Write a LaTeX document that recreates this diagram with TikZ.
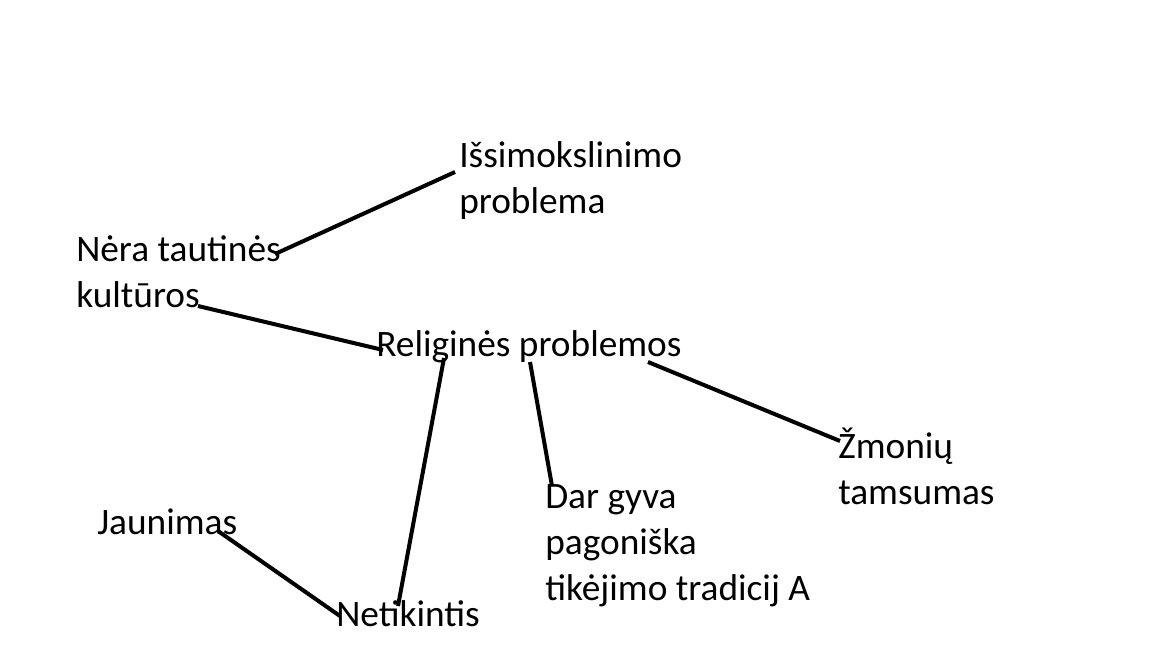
\documentclass[tikz,border=0pt]{standalone}
\usepackage{fontspec}
\setmainfont{Carlito}
\begin{document}
\begin{tikzpicture}[x=0.75pt,y=-0.75pt,
  lbl/.style={anchor=base west,inner sep=0pt,font=\fontsize{28}{34.5}\selectfont},
  link/.style={line width=3pt,black}]
\useasboundingbox (0,0) rectangle (1151,648);
\fill[white] (0,0) rectangle (1151,648);
\node[lbl] (isi) at (459,168) {\vtop{\hbox{Išsimokslinimo}\hbox{problema}}};
\node[lbl] (nera) at (76,262) {\vtop{\hbox{Nėra tautinės}\hbox{kultūros}}};
\node[lbl] (rel) at (376,356) {Religinės problemos};
\node[lbl] (zm) at (838,458) {\vtop{\hbox{Žmonių}\hbox{tamsumas}}};
\node[lbl] (dar) at (545,508) {\vtop{\hbox{Dar gyva}\hbox{pagoniška}\hbox{tikėjimo tradicij A}}};
\node[lbl] (jau) at (97,534) {Jaunimas};
\node[lbl] (net) at (336,626) {Netikintis};
\coordinate (neraA) at (275,254);
\coordinate (isiA) at (455,172);
\coordinate (neraB) at (198,306);
\coordinate (relA) at (383,350);
\coordinate (relB) at (444,358);
\coordinate (netA) at (398,606);
\coordinate (relC) at (530,362);
\coordinate (darA) at (552,486);
\coordinate (relD) at (648,362);
\coordinate (zmA) at (840,441);
\coordinate (jauA) at (218,531);
\coordinate (netB) at (340,616);
\draw[link] (neraA) -- (isiA);
\draw[link] (neraB) -- (relA);
\draw[link] (relB) -- (netA);
\draw[link] (relC) -- (darA);
\draw[link] (relD) -- (zmA);
\draw[link] (jauA) -- (netB);
\end{tikzpicture}
\end{document}
